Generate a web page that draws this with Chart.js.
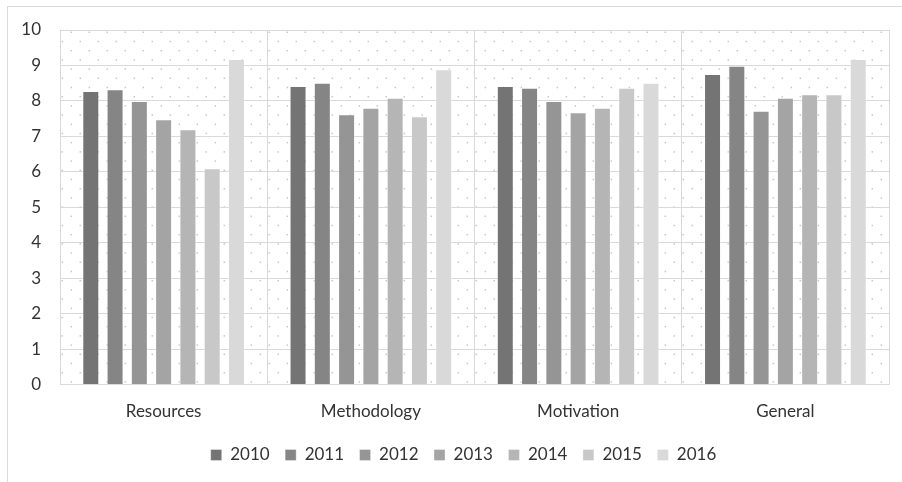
<!DOCTYPE html>
<html>
<head>
<meta charset="utf-8">
<script src="https://cdn.jsdelivr.net/npm/chart.js@4/dist/chart.umd.min.js"></script>
<style>
  html, body { margin: 0; padding: 0; background: #ffffff; }
  #wrap { position: relative; width: 902px; height: 482px; }
  #frame { position: absolute; left: 7px; top: 6px; right: 0; bottom: 0;
           border-top: 1px solid #d9d9d9; border-left: 1px solid #d9d9d9; pointer-events: none; }
  canvas { position: absolute; left: 0; top: 0; }
</style>
</head>
<body>
<div id="wrap">
  <canvas id="chart" width="902" height="482"></canvas>
  <div id="frame"></div>
</div>
<script>
// Survey areas and yearly average scores
const categories = ['Resources', 'Methodology', 'Motivation', 'General'];
const years = ['2010', '2011', '2012', '2013', '2014', '2015', '2016'];

const s2010 = [8.28, 8.42, 8.42, 8.76];
const s2011 = [8.33, 8.51, 8.37, 8.99];
const s2012 = [8.00, 7.62, 8.00, 7.72];
const s2013 = [7.48, 7.81, 7.68, 8.09];
const s2014 = [7.20, 8.09, 7.81, 8.19];
const s2015 = [6.10, 7.57, 8.37, 8.19];
const s2016 = [9.18, 8.89, 8.51, 9.18];

const yTicks = [0, 1, 2, 3, 4, 5, 6, 7, 8, 9, 10];

const seriesValues = [s2010, s2011, s2012, s2013, s2014, s2015, s2016];
const greys = ['#747474', '#858585', '#959595', '#a4a4a4', '#b5b5b5', '#c8c8c8', '#d9d9d9'];

// Light dotted fill behind the plot area
const dottedBackground = {
  id: 'dottedBackground',
  beforeDraw(chart) {
    const { ctx, chartArea: a } = chart;
    ctx.save();
    ctx.beginPath();
    ctx.rect(a.left, a.top, a.right - a.left, a.bottom - a.top);
    ctx.clip();
    ctx.fillStyle = '#c8c8c8';
    const sx = 18, sy = 18.4;
    for (let y = a.top + 2.3; y < a.bottom; y += sy) {
      for (let x = a.left + 11.3 - sx; x < a.right; x += sx) {
        ctx.fillRect(x - 0.75, y - 0.75, 1.5, 1.5);
      }
    }
    for (let y = a.top + 11.5; y < a.bottom; y += sy) {
      for (let x = a.left + 2.3; x < a.right; x += sx) {
        ctx.fillRect(x - 0.75, y - 0.75, 1.5, 1.5);
      }
    }
    ctx.restore();
  }
};

// Centre the legend row under the plot area
const legendShift = {
  id: 'legendShift',
  afterLayout(chart) {
    const lg = chart.legend;
    if (lg) { lg.left += 19; lg.right += 19; }
  }
};

const fontFamily = 'Lato, "Open Sans", sans-serif';
const textColor = '#333333';

new Chart(document.getElementById('chart'), {
  type: 'bar',
  data: {
    labels: categories,
    datasets: years.map((yr, i) => ({
      label: yr,
      data: seriesValues[i],
      backgroundColor: greys[i],
      borderColor: 'rgba(255,255,255,0.35)',
      borderWidth: 1,
      categoryPercentage: 0.82,
      barPercentage: 0.70
    }))
  },
  options: {
    responsive: false,
    animation: false,
    layout: { padding: { left: 0, right: 13, top: 30, bottom: 8.5 } },
    plugins: {
      tooltip: { enabled: false },
      legend: {
        position: 'bottom',
        labels: {
          boxWidth: 11,
          boxHeight: 11,
          padding: 15.5,
          color: textColor,
          font: { family: fontFamily, size: 17 }
        }
      }
    },
    scales: {
      x: {
        grid: { color: '#d9d9d9', lineWidth: 1, drawTicks: false, offset: true },
        border: { color: '#d9d9d9' },
        ticks: { color: textColor, padding: 17, font: { family: fontFamily, size: 17 } },
        afterFit(scale) { scale.height = 46.5; }
      },
      y: {
        min: 0,
        max: 10,
        afterBuildTicks(scale) { scale.ticks = yTicks.map(v => ({ value: v })); },
        grid: { color: '#d9d9d9', lineWidth: 1, drawTicks: false },
        border: { color: '#d9d9d9' },
        ticks: { color: textColor, padding: 19, font: { family: fontFamily, size: 17 } },
        afterFit(scale) { scale.width = 60; }
      }
    }
  },
  plugins: [dottedBackground, legendShift]
});
</script>
</body>
</html>
